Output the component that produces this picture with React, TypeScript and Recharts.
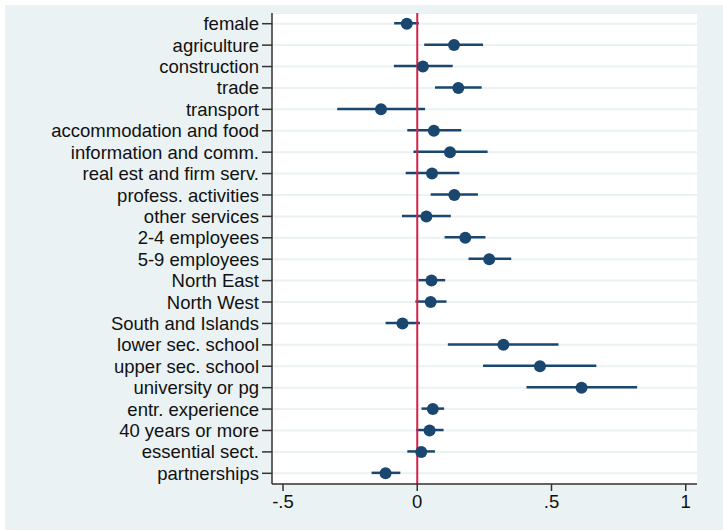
import React from "react";
import {
  ComposedChart,
  Bar,
  Line,
  XAxis,
  YAxis,
  CartesianGrid,
  ReferenceLine,
} from "recharts";

const categories = [
  "female",
  "agriculture",
  "construction",
  "trade",
  "transport",
  "accommodation and food",
  "information and comm.",
  "real est and firm serv.",
  "profess. activities",
  "other services",
  "2-4 employees",
  "5-9 employees",
  "North East",
  "North West",
  "South and Islands",
  "lower sec. school",
  "upper sec. school",
  "university or pg",
  "entr. experience",
  "40 years or more",
  "essential sect.",
  "partnerships",
];

const coefs = [
  -0.039, 0.137, 0.021, 0.153, -0.135, 0.062, 0.122, 0.055, 0.138, 0.034,
  0.179, 0.268, 0.053, 0.05, -0.055, 0.321, 0.457, 0.612, 0.058, 0.046,
  0.015, -0.118,
];

const lowers = [
  -0.086, 0.026, -0.087, 0.066, -0.298, -0.037, -0.014, -0.043, 0.05, -0.057,
  0.102, 0.191, 0.004, -0.007, -0.118, 0.114, 0.245, 0.407, 0.016, -0.004,
  -0.037, -0.17,
];

const uppers = [
  0.006, 0.245, 0.132, 0.24, 0.029, 0.164, 0.262, 0.157, 0.226, 0.125, 0.254,
  0.35, 0.104, 0.109, 0.01, 0.526, 0.667, 0.819, 0.1, 0.098, 0.066, -0.063,
];

const xTicks = [-0.5, 0, 0.5, 1];
const xTickLabels: Record<string, string> = {
  "-0.5": "-.5",
  "0": "0",
  "0.5": ".5",
  "1": "1",
};

const data = categories.map((name, i) => ({
  name,
  coef: coefs[i],
  ci: [lowers[i], uppers[i]],
}));

const NAVY = "#1a476f";
const BG = "#eaf2f3";
const FONT = "'Liberation Sans', Arial, Helvetica, sans-serif";

export default function App() {
  return (
    <div
      style={{
        position: "absolute",
        left: 0,
        top: 0,
        width: 723,
        height: 531,
        background: "#ffffff",
        overflow: "hidden",
      }}
    >
      <div
        style={{
          position: "absolute",
          left: 5,
          top: 5,
          width: 718,
          height: 525,
          background: BG,
        }}
      />
      <div style={{ position: "absolute", left: 0, top: 0 }}>
        <ComposedChart
          width={723}
          height={531}
          data={data}
          layout="vertical"
          margin={{ top: 13, right: 26, bottom: 0, left: 0 }}
          barCategoryGap={0}
        >
          <CartesianGrid
            horizontal={true}
            vertical={false}
            fill="#ffffff"
            stroke={BG}
            strokeWidth={2}
          />
          <XAxis
            type="number"
            domain={[-0.541, 1.042]}
            allowDataOverflow
            ticks={xTicks}
            height={47}
            tickFormatter={(v: number) => xTickLabels[String(v)] ?? String(v)}
            tickSize={7}
            tickMargin={4}
            axisLine={{ stroke: "#333333", strokeWidth: 1.5 }}
            tickLine={{ stroke: "#333333", strokeWidth: 1.5 }}
            tick={{ fill: "#111111", fontSize: 18.5, fontFamily: FONT }}
          />
          <YAxis
            type="category"
            dataKey="name"
            width={272}
            interval={0}
            tickSize={10}
            tickMargin={3}
            axisLine={{ stroke: "#333333", strokeWidth: 1.5 }}
            tickLine={{ stroke: "#333333", strokeWidth: 1.5 }}
            tick={{ fill: "#111111", fontSize: 18.5, fontFamily: FONT }}
          />
          <Bar
            dataKey="ci"
            barSize={2.5}
            fill={NAVY}
            isAnimationActive={false}
          />
          <ReferenceLine x={0} stroke="#d4234a" strokeWidth={2} />
          <Line
            dataKey="coef"
            stroke="none"
            dot={{ r: 6, fill: NAVY, stroke: NAVY, strokeWidth: 0 }}
            activeDot={false}
            isAnimationActive={false}
          />
        </ComposedChart>
      </div>
    </div>
  );
}
